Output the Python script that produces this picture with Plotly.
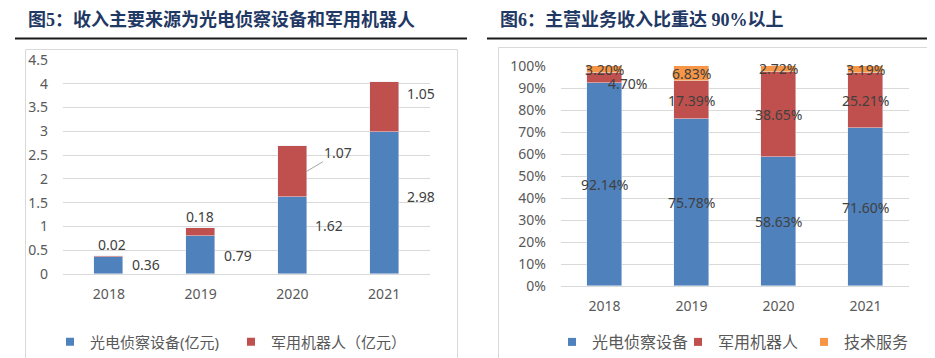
import plotly.graph_objects as go

# ---------------- data ----------------
years = ["2018", "2019", "2020", "2021"]

# 图5: revenue (亿元)
optical_rev = [0.36, 0.79, 1.62, 2.98]
robot_rev = [0.02, 0.18, 1.07, 1.05]
left_yticks = [0, 0.5, 1, 1.5, 2, 2.5, 3, 3.5, 4, 4.5]

# 图6: revenue share (%)
optical_pct = [92.14, 75.78, 58.63, 71.60]
robot_pct = [4.70, 17.39, 38.65, 25.21]
service_pct = [3.20, 6.83, 2.72, 3.19]
right_yticks = [0, 10, 20, 30, 40, 50, 60, 70, 80, 90, 100]

title_left = "图5：收入主要来源为光电侦察设备和军用机器人"
title_right = "图6：主营业务收入比重达 90%以上"
legend_left = ["光电侦察设备(亿元)", "军用机器人（亿元）"]
legend_right = ["光电侦察设备", "军用机器人", "技术服务"]

# ---------------- style ----------------
OFF = 8                      # page body margin
W, H = 935 - OFF, 358 - OFF  # figure fits the window exactly
BLUE, RED, ORANGE = "#4F81BD", "#C0504D", "#F79646"
GRID = "#D9D9D9"
TICK = "#595959"
LABEL = "#404040"
TITLE = "#1F3864"
FONT = "Noto Sans, Noto Sans CJK SC, sans-serif"
TFONT = "Liberation Serif, Noto Sans CJK SC, serif"

xpos = list(range(len(years)))


def px(x):
    return (x - OFF) / W


def py(y):
    return 1 - (y - OFF) / H


fig = go.Figure()

# ---- left chart bars ----
fig.add_trace(go.Bar(x=xpos, y=optical_rev, marker_color=BLUE, width=0.315,
                     xaxis="x", yaxis="y", showlegend=False, hoverinfo="skip"))
fig.add_trace(go.Bar(x=xpos, y=robot_rev, marker_color=RED, width=0.315,
                     xaxis="x", yaxis="y", showlegend=False, hoverinfo="skip"))

# ---- right chart bars ----
for vals, col in [(optical_pct, BLUE), (robot_pct, RED), (service_pct, ORANGE)]:
    fig.add_trace(go.Bar(x=xpos, y=vals, marker_color=col, width=0.40,
                         xaxis="x2", yaxis="y2", showlegend=False, hoverinfo="skip"))

# ---- legend entries ----
for name, col in zip(legend_left, [BLUE, RED]):
    fig.add_trace(go.Scatter(x=[None], y=[None], mode="markers", name=name,
                             marker=dict(symbol="square", size=8, color=col),
                             xaxis="x", yaxis="y", legend="legend"))
for name, col in zip(legend_right, [BLUE, RED, ORANGE]):
    fig.add_trace(go.Scatter(x=[None], y=[None], mode="markers", name=name,
                             marker=dict(symbol="square", size=8, color=col),
                             xaxis="x2", yaxis="y2", legend="legend2"))

annotations = []
lab_font = dict(size=14, color=LABEL, family=FONT)

# left chart labels
blue_yshift = [1, 0, 10, 7]
for i in xpos:
    annotations.append(dict(x=i, y=optical_rev[i] / 2, xref="x", yref="y",
                            text=f"{optical_rev[i]:.2f}", showarrow=False,
                            xanchor="left", xshift=21, yshift=blue_yshift[i], font=lab_font))
red_xshift = [3, -1]
for i in range(2):
    annotations.append(dict(x=i, y=optical_rev[i] + robot_rev[i], xref="x", yref="y",
                            text=f"{robot_rev[i]:.2f}", showarrow=False,
                            yanchor="bottom", xshift=red_xshift[i], yshift=0, font=lab_font))
annotations.append(dict(x=2, y=optical_rev[2] + robot_rev[2] / 2, xref="x", yref="y",
                        text=f"{robot_rev[2]:.2f}", showarrow=True, arrowhead=0,
                        arrowwidth=1, arrowcolor="#A6A6A6", ax=32, ay=-19,
                        xshift=14, standoff=0, font=lab_font))
annotations.append(dict(x=3, y=optical_rev[3] + robot_rev[3] / 2, xref="x", yref="y",
                        text=f"{robot_rev[3]:.2f}", showarrow=False,
                        xanchor="left", xshift=21, yshift=14, font=lab_font))

# right chart labels (centered in segments)
for i in xpos:
    segs = [optical_pct[i], robot_pct[i], service_pct[i]]
    base = 0
    for j, v in enumerate(segs):
        xs, ys = 0, 0
        if i == 0 and j == 1:
            xs, ys = 23, -5
        annotations.append(dict(x=i, y=base + v / 2, xref="x2", yref="y2",
                                text=f"{v:.2f}%", showarrow=False,
                                xshift=xs, yshift=ys, font=lab_font))
        base += v

# titles
annotations.append(dict(x=px(26), y=py(20), xref="paper", yref="paper", text=f"<b>{title_left}</b>",
                        showarrow=False, xanchor="left", yanchor="middle",
                        font=dict(size=18, color=TITLE, family=TFONT)))
annotations.append(dict(x=px(498), y=py(20), xref="paper", yref="paper", text=f"<b>{title_right}</b>",
                        showarrow=False, xanchor="left", yanchor="middle",
                        font=dict(size=18, color=TITLE, family=TFONT)))

shapes = [
    dict(type="line", xref="paper", yref="paper", x0=px(15), x1=px(467), y0=py(38.5), y1=py(38.5),
         line=dict(color="#1A1A1A", width=2)),
    dict(type="line", xref="paper", yref="paper", x0=px(487), x1=px(940), y0=py(38.5), y1=py(38.5),
         line=dict(color="#1A1A1A", width=2)),
    dict(type="rect", xref="paper", yref="paper", x0=px(25.5), x1=px(457.5), y0=py(370), y1=py(49.5),
         line=dict(color=GRID, width=1)),
    dict(type="rect", xref="paper", yref="paper", x0=px(498.5), x1=px(930.5), y0=py(370), y1=py(47.5),
         line=dict(color=GRID, width=1)),
]

tickfont = dict(size=14, color=TICK, family=FONT)
xcommon = dict(type="linear", range=[-0.5, 3.5], tickvals=xpos, ticktext=years,
               showgrid=False, zeroline=False, showline=False, ticks="", automargin=False,
               ticklabelstandoff=10, tickfont=tickfont)
ycommon = dict(showgrid=True, gridcolor=GRID, gridwidth=1, zeroline=True, zerolinecolor=GRID,
               zerolinewidth=1, ticklabelstandoff=14, showline=False, ticks="", automargin=False,
               tickfont=tickfont)

fig.update_layout(
    width=W, height=H, margin=dict(l=0, r=0, t=0, b=0, autoexpand=False),
    paper_bgcolor="white", plot_bgcolor="white",
    barmode="stack", bargap=0,
    xaxis=dict(domain=[px(63), px(430)], anchor="y", **xcommon),
    yaxis=dict(domain=[py(274), py(60)], anchor="x", range=[0, 4.5], tickvals=left_yticks, **ycommon),
    xaxis2=dict(domain=[px(561), px(909)], anchor="y2", **xcommon),
    yaxis2=dict(domain=[py(286), py(66)], anchor="x2", range=[0, 100], tickvals=right_yticks,
                ticktext=[f"{v}%" for v in right_yticks], **ycommon),
    legend=dict(orientation="h", x=px(50), y=py(342), xanchor="left", yanchor="middle",
                font=dict(size=15, color=TICK, family=FONT), bgcolor="rgba(0,0,0,0)",
                traceorder="normal", entrywidth=136, entrywidthmode="pixels"),
    legend2=dict(orientation="h", x=px(552), y=py(342), xanchor="left", yanchor="middle",
                 font=dict(size=16, color=TICK, family=FONT), bgcolor="rgba(0,0,0,0)",
                 traceorder="normal", entrywidth=81, entrywidthmode="pixels"),
    annotations=annotations,
    shapes=shapes,
)

fig.write_html("out.html")
